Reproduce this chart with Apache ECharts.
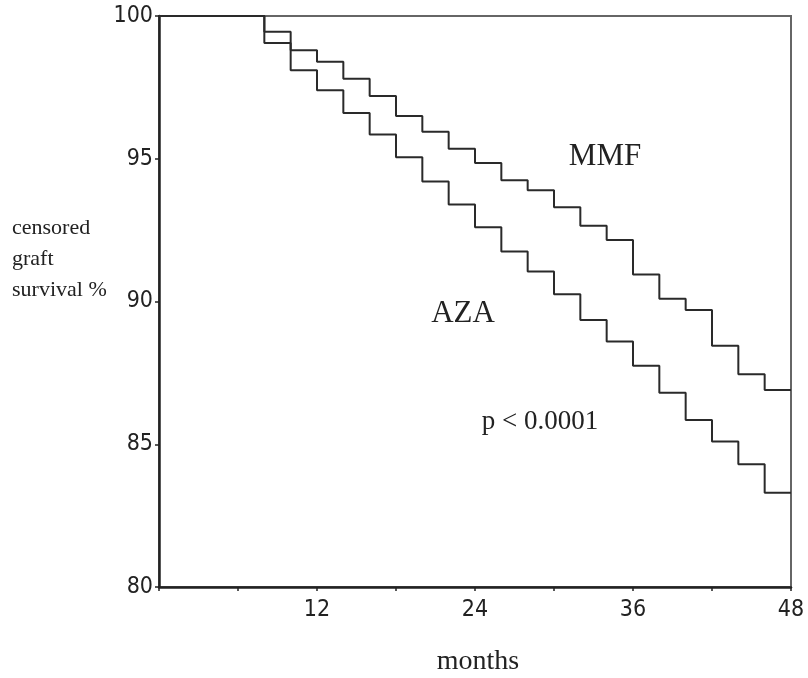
<!DOCTYPE html>
<html>
<head>
<meta charset="utf-8">
<title></title>
</head>
<body style="height: 100%; margin: 0;background-color:#ffffff;">
<div id="container" style="width:808px;height:678px;margin:0;"></div>
<script type="text/javascript" src="https://cdn.jsdelivr.net/npm/echarts@6/dist/echarts.min.js"></script>
<script type="text/javascript">
// months where the survival estimate changes
var months = [0, 8, 10, 12, 14, 16, 18, 20, 22, 24, 26, 28, 30, 32, 34, 36, 38, 40, 42, 44, 46, 48];
// censored graft survival %
var mmf = [100, 99.45, 98.8, 98.4, 97.8, 97.2, 96.5, 95.95, 95.35, 94.85, 94.25, 93.9, 93.3, 92.65, 92.15, 90.95, 90.1, 89.7, 88.45, 87.45, 86.9, 86.9];
var aza = [100, 99.05, 98.1, 97.4, 96.6, 95.85, 95.05, 94.2, 93.4, 92.6, 91.75, 91.05, 90.25, 89.35, 88.6, 87.75, 86.8, 85.85, 85.1, 84.3, 83.3, 83.3];
var xLabels = [12, 24, 36, 48];

function pairs(xs, ys){
	var out = [];
	for(var i=0;i<xs.length;i++){
		out.push([xs[i], ys[i]]);
	}
	return out;
}

var serif = "'Liberation Serif', 'DejaVu Serif', serif";
var narrow = "'Liberation Sans Narrow', 'DejaVu Sans Condensed', 'Liberation Sans', sans-serif";

var dom = document.getElementById("container");
var myChart = echarts.init(dom);
var option = {
	backgroundColor:"#ffffff",
	animation:false,
	grid:{
		left: 159,
		right: 17,
		top: 16,
		bottom: 91,
		show: true,
		borderColor: '#666',
		borderWidth: 2
	},
	xAxis: {
		type: 'value',
		min: 0,
		max: 48,
		interval: 6,
		splitLine: {show: false},
		axisLine: {lineStyle: {color: '#222', width: 2.5}},
		axisTick: {show: true, length: 4, lineStyle: {color: '#222', width: 1.5}},
		axisLabel: {
			margin: 12,
			color: '#222',
			fontSize: 23,
			fontFamily: narrow,
			formatter: function(v){
				return xLabels.indexOf(v) >= 0 ? String(v) : '';
			}
		}
	},
	yAxis: {
		type: 'value',
		min: 80,
		max: 100,
		interval: 5,
		splitLine: {show: false},
		axisLine: {show: true, lineStyle: {color: '#222', width: 2.5}},
		axisTick: {show: true, length: 4, lineStyle: {color: '#222', width: 1.5}},
		axisLabel: {
			margin: 6,
			color: '#222',
			fontSize: 23,
			fontFamily: narrow
		}
	},
	series: [
		{
			name: 'MMF',
			type: 'line',
			step: 'end',
			symbol: 'none',
			lineStyle: {color: '#2a2a2a', width: 2},
			data: pairs(months, mmf)
		},
		{
			name: 'AZA',
			type: 'line',
			step: 'end',
			symbol: 'none',
			lineStyle: {color: '#2a2a2a', width: 2},
			data: pairs(months, aza)
		}
	],
	graphic: [
		{type:'text', x:605, y:157, style:{text:'MMF', font:'31px ' + serif, fill:'#222', align:'center', verticalAlign:'middle'}},
		{type:'text', x:463, y:314, style:{text:'AZA', font:'31px ' + serif, fill:'#222', align:'center', verticalAlign:'middle'}},
		{type:'text', x:540, y:422, style:{text:'p < 0.0001', font:'27px ' + serif, fill:'#222', align:'center', verticalAlign:'middle'}},
		{type:'text', x:478, y:662, style:{text:'months', font:'28px ' + serif, fill:'#222', align:'center', verticalAlign:'middle'}},
		{type:'text', x:12, y:213, style:{text:'censored\ngraft\nsurvival %', font:'22px ' + serif, lineHeight:31, fill:'#222', align:'left', verticalAlign:'top'}}
	]
};
myChart.setOption(option, true);
</script>
</body>
</html>
